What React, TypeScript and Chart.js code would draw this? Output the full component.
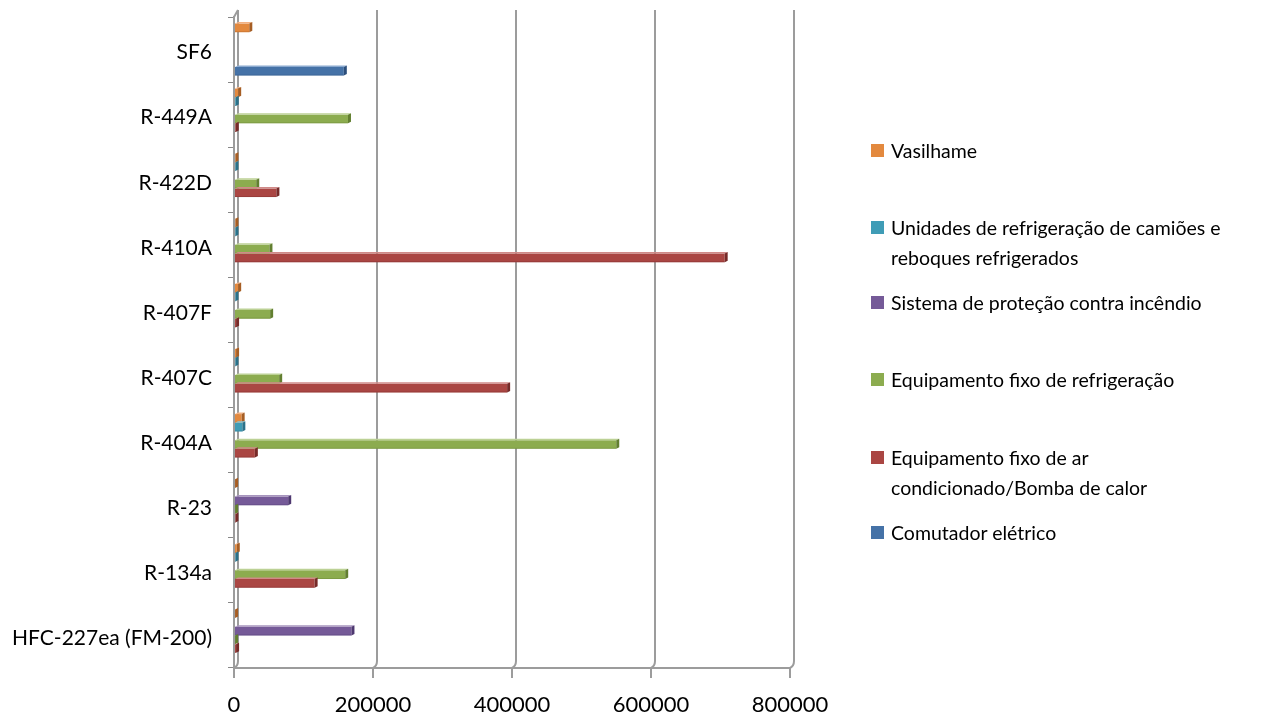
import React, { useEffect, useRef } from "react";
import { Chart, registerables } from "chart.js";

Chart.register(...registerables);

// Categories, top to bottom as displayed
const categories = [
  "SF6",
  "R-449A",
  "R-422D",
  "R-410A",
  "R-407F",
  "R-407C",
  "R-404A",
  "R-23",
  "R-134a",
  "HFC-227ea (FM-200)",
];

// Series values (same order as categories)
const vasilhame = [22000, 6000, 2000, 2000, 6000, 3000, 11000, 1500, 4000, 1500];
const unidades = [0, 2500, 2000, 2000, 2000, 2000, 12000, 0, 2000, 0];
const sistema = [0, 0, 0, 0, 0, 0, 0, 78000, 0, 169000];
const eqRefrigeracao = [0, 164000, 32000, 51000, 52000, 65000, 550000, 1500, 160000, 1500];
const eqArCondicionado = [0, 2500, 61000, 706000, 3000, 393000, 30000, 2000, 116000, 3000];
const comutador = [158000, 0, 0, 0, 0, 0, 0, 0, 0, 0];

const xTicks = [0, 200000, 400000, 600000, 800000];

const seriesNames = [
  "Vasilhame",
  "Unidades de refrigeração de camiões e\nreboques refrigerados",
  "Sistema de proteção contra incêndio",
  "Equipamento fixo de refrigeração",
  "Equipamento fixo de ar\ncondicionado/Bomba de calor",
  "Comutador elétrico",
];
const seriesData = [vasilhame, unidades, sistema, eqRefrigeracao, eqArCondicionado, comutador];
const seriesColors = ["#E3893E", "#3F9CB6", "#755A98", "#8CAC4F", "#AA4643", "#4572A7"];
const seriesEdge = ["#A65E24", "#2A7189", "#4E3870", "#627F30", "#762A28", "#2B4E7B"];
const seriesTop = ["#F2B183", "#86C6D8", "#A795BE", "#BCD195", "#D08A88", "#8AA9CF"];

const FONT = "Lato, 'Open Sans', sans-serif";
const GRID = "#9c9c9c";

// legend layout (first-line centre y of each item)
const legendTops = [151, 228, 303, 380, 458, 533];

const DX = 4; // 3D depth offsets
const DY = 7;

const backWall = {
  id: "backWall",
  beforeDatasetsDraw(chart: any) {
    const { ctx, chartArea } = chart;
    const xs = chart.scales.x;
    ctx.save();
    ctx.strokeStyle = GRID;
    ctx.lineWidth = 2;
    xTicks.forEach((v) => {
      const px = xs.getPixelForValue(v);
      ctx.beginPath();
      ctx.moveTo(px + DX, chartArea.top - DY);
      ctx.lineTo(px + DX, chartArea.bottom - DY);
      ctx.quadraticCurveTo(px + DX, chartArea.bottom - 2, px, chartArea.bottom);
      ctx.stroke();
    });
    ctx.beginPath();
    ctx.moveTo(chartArea.left, chartArea.top);
    ctx.lineTo(chartArea.left + DX, chartArea.top - DY);
    ctx.stroke();
    ctx.restore();
  },
};

const bar3d = {
  id: "bar3d",
  afterDatasetsDraw(chart: any) {
    const ctx = chart.ctx;
    chart.data.datasets.forEach((ds: any, di: number) => {
      const meta = chart.getDatasetMeta(di);
      meta.data.forEach((el: any, i: number) => {
        const v = ds.data[i];
        if (!v) return;
        const { x, y, base, height } = el.getProps(["x", "y", "base", "height"], true);
        const top = y - height / 2;
        const bot = y + height / 2;
        const d = 3;
        const dy = 1.5;
        ctx.save();
        ctx.fillStyle = seriesTop[di];
        ctx.beginPath();
        ctx.moveTo(base, top);
        ctx.lineTo(base + d, top - dy);
        ctx.lineTo(x + d, top - dy);
        ctx.lineTo(x, top);
        ctx.closePath();
        ctx.fill();
        ctx.fillStyle = seriesEdge[di];
        ctx.globalAlpha = 0.35;
        ctx.fillRect(base, bot - 1, x - base, 1);
        ctx.globalAlpha = 1;
        ctx.beginPath();
        ctx.moveTo(x, top);
        ctx.lineTo(x + d, top - dy);
        ctx.lineTo(x + d, bot - dy);
        ctx.lineTo(x, bot);
        ctx.closePath();
        ctx.fill();
        ctx.restore();
      });
    });
  },
};

export default function App() {
  const canvasRef = useRef<HTMLCanvasElement | null>(null);

  useEffect(() => {
    if (!canvasRef.current) return;
    const chart = new Chart(canvasRef.current, {
      type: "bar",
      data: {
        labels: categories,
        datasets: seriesData.map((d, i) => ({
          label: seriesNames[i].replace("\n", " "),
          data: d,
          backgroundColor: seriesColors[i],
          borderWidth: 0,
          categoryPercentage: 0.8,
          barPercentage: 1.0,
        })),
      },
      plugins: [backWall, bar3d],
      options: {
        indexAxis: "y",
        responsive: false,
        animation: false,
        layout: { padding: { left: 0, right: 473, top: 17, bottom: 0 } },
        plugins: {
          legend: { display: false },
          tooltip: { enabled: false },
        },
        scales: {
          x: {
            type: "linear",
            min: 0,
            max: 800000,
            afterBuildTicks: (s: any) => {
              s.ticks = xTicks.map((v) => ({ value: v }));
            },
            afterFit: (s: any) => {
              s.height = 47;
              s.paddingLeft = 0;
              s.paddingRight = 0;
            },
            ticks: {
              color: "#000",
              font: { family: FONT, size: 22 },
              padding: 14,
              callback: (v: any) => String(v),
            },
            grid: {
              drawOnChartArea: false,
              tickLength: 10,
              tickColor: GRID,
              lineWidth: 2,
              drawTicks: true,
            },
            border: { display: true, color: GRID, width: 2 },
          },
          y: {
            type: "category",
            afterFit: (s: any) => {
              s.width = 234;
              s.paddingTop = 0;
              s.paddingBottom = 0;
            },
            ticks: {
              color: "#000",
              font: { family: FONT, size: 21 },
              padding: 16,
              labelOffset: 3,
            },
            grid: {
              offset: true,
              drawOnChartArea: false,
              drawTicks: true,
              tickLength: 6,
              tickColor: "#888",
            },
            border: { display: true, color: GRID, width: 2 },
          },
        },
      },
    });
    return () => chart.destroy();
  }, []);

  return (
    <div
      style={{
        position: "fixed",
        left: 0,
        top: 0,
        width: 1263,
        height: 715,
        background: "#fff",
        fontFamily: FONT,
      }}
    >
      <canvas ref={canvasRef} width={1263} height={715} style={{ width: 1263, height: 715 }} />
      {seriesNames.map((name, i) => (
        <div
          key={i}
          style={{
            position: "absolute",
            left: 871,
            top: legendTops[i] - 14.75,
            display: "flex",
            alignItems: "flex-start",
          }}
        >
          <div
            style={{
              width: 13,
              height: 13,
              marginTop: 8,
              background: seriesColors[i],
              flex: "0 0 auto",
            }}
          />
          <div
            style={{
              marginLeft: 7,
              fontSize: 19.5,
              lineHeight: "29.5px",
              whiteSpace: "pre-line",
              color: "#000",
            }}
          >
            {name}
          </div>
        </div>
      ))}
    </div>
  );
}
